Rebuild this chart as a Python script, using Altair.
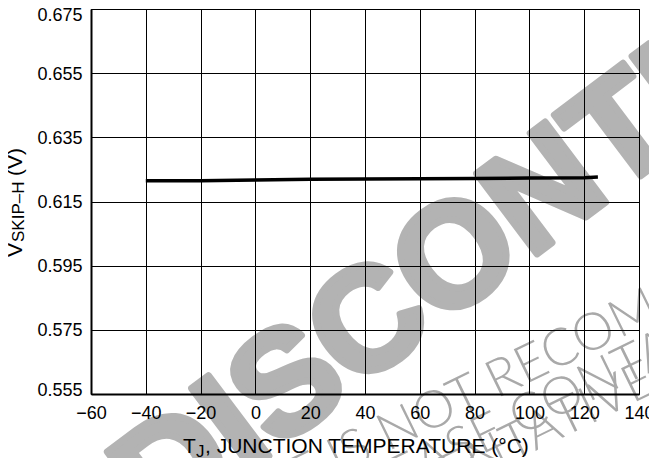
import altair as alt
import pandas as pd

# ---- data ----
temps = [-40, -20, 0, 20, 40, 60, 80, 100, 120, 125]
vskip = [0.6215, 0.6215, 0.6217, 0.6219, 0.6220, 0.6221, 0.6222, 0.6223, 0.6224, 0.6226]
x_ticks = [-60, -40, -20, 0, 20, 40, 60, 80, 100, 120, 140]
y_ticks = [0.555, 0.575, 0.595, 0.615, 0.635, 0.655, 0.675]

W, H = 548, 385
FONT = "Liberation Sans"
WM = "#b3b3b3"
WM2 = "#a9a9a9"
OX, OY = 91, 9  # plot origin on the page

df = pd.DataFrame({"t": temps, "v": vskip})
one = pd.DataFrame({"k": [0]})


def txt(s, x, y, size, angle=0, align="left", color="black", weight="normal",
        dx=0, font=FONT, stroke=None, sw=0, baseline="alphabetic"):
    kw = dict(text=s, fontSize=size, font=font, angle=angle, align=align,
              baseline=baseline, color=color, fontWeight=weight, dx=dx)
    if stroke:
        kw.update(stroke=stroke, strokeWidth=sw, strokeJoin="round")
    return alt.Chart(one).mark_text(**kw).encode(
        x=alt.value(x - OX), y=alt.value(y - OY))


# ---- watermark (page pixel anchors) ----
SM = dict(size=52, angle=334, color=WM2, font="Lato", weight=300)
wm = [
    txt("DISCONTINUED", 160, 538, 146, angle=323, color=WM, weight="bold",
        stroke=WM, sw=7),
    txt("THIS DEVICE", 338, 476, align="right", dx=-13, **SM),
    txt("IS NOT RECOMMENDED", 338, 476, **SM),
    txt("FOR NEW DESIGN. PLEASE", 520, 436, align="right", dx=-13, **SM),
    txt("CONTACT YOUR", 520, 436, **SM),
    txt("ON SEMICONDUCTOR REPRESE", 476, 480, align="right", **SM),
    txt("NTATIVE FOR INFORMATION", 476, 480, **SM),
]

line = alt.Chart(df).mark_line(color="black", strokeWidth=3.5).encode(
    x=alt.X("t:Q", scale=alt.Scale(domain=[-60, 140], nice=False, zero=False),
            axis=alt.Axis(values=x_ticks, format="d", title=None, labelPadding=10,
                          labelFlush=False, domainWidth=2, zindex=1)),
    y=alt.Y("v:Q", scale=alt.Scale(domain=[0.555, 0.675], nice=False, zero=False),
            axis=alt.Axis(values=y_ticks, format=".3f", title=None, labelPadding=9,
                          labelFlush=True, labelFlushOffset=4, labelOffset=1,
                          domainWidth=2, zindex=1)),
)

titles = [
    txt("V", 22, 257, 21, angle=270),
    txt("SKIP\u2013H", 24, 242, 17, angle=270),
    txt("(V)", 22, 176, 21, angle=270),
    txt("T", 183, 453, 21),
    txt("J", 196, 457, 17),
    txt(", JUNCTION TEMPERATURE (\u00b0C)", 205, 453, 21),
]

chart = alt.layer(*wm, line, *titles).properties(
    width=W, height=H,
    autosize=alt.AutoSizeParams(type="none"),
    padding={"left": OX - 8, "top": OY - 8, "right": 10, "bottom": 64},
).configure_view(
    stroke="black", strokeWidth=1
).configure_axis(
    grid=True, gridColor="black", gridOpacity=1, gridWidth=1,
    ticks=False, tickSize=0,
    domainColor="black", labelColor="black",
    labelFont=FONT, labelFontSize=18,
)

chart.save("out.html", embed_options={"renderer": "svg", "actions": False})
